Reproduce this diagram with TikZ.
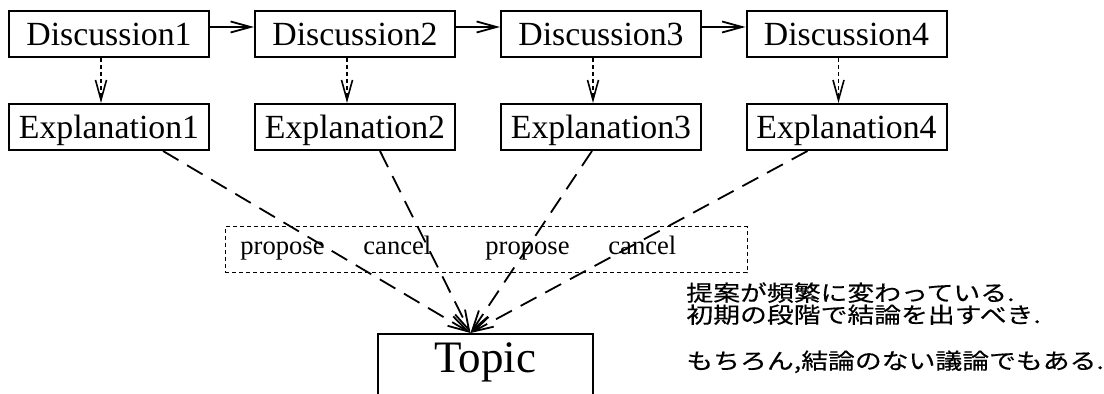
\documentclass[tikz,border=0pt]{standalone}
\usepackage{fontspec}
\setmainfont{Liberation Serif}
\newfontfamily\jpfont[FakeStretch=1.22, FakeBold=0.4]{Noto Sans CJK JP}
\usetikzlibrary{positioning, arrows.meta}

\begin{document}
\begin{tikzpicture}[x=0.5pt, y=-0.5pt]

	\tikzstyle{stage}=[rectangle, draw, line width=1pt, minimum width=100pt, minimum height=23pt, inner ysep=0pt, text height=11.5pt, text depth=0pt, font=\fontsize{16.9}{20}\selectfont]
	\tikzstyle{arc}=[-{Straight Barb[length=10pt,width=5.5pt]}, line width=0.9pt, black]
	\tikzstyle{refine}=[arc, line width=0.8pt, dash pattern=on 2pt off 1.5pt]
	\tikzstyle{feed}=[arc, line width=0.9pt, dash pattern=on 9pt off 5pt]
	\tikzstyle{act}=[inner sep=0pt, anchor=base west, font=\fontsize{13.3}{16}\selectfont]

	\useasboundingbox (0,0) rectangle (1104,394);

	% discussions
	\node[stage] (disc1) at (109,34) {Discussion1};
	\node[stage] (disc2) at (355,34) {Discussion2};
	\node[stage] (disc3) at (601,34) {Discussion3};
	\node[stage] (disc4) at (846.5,34) {Discussion4};
	\draw[arc] ([yshift=3.5pt]disc1.east) -- ([yshift=3.5pt]disc2.west);
	\draw[arc] ([yshift=3.5pt]disc2.east) -- ([yshift=3.5pt]disc3.west);
	\draw[arc] ([yshift=3.5pt]disc3.east) -- ([yshift=3.5pt]disc4.west);

	% explanations
	\node[stage] (expl1) at (109,127) {Explanation1};
	\node[stage] (expl2) at (355,127) {Explanation2};
	\node[stage] (expl3) at (601,127) {Explanation3};
	\node[stage] (expl4) at (846.5,127) {Explanation4};
	\draw[refine] ([xshift=-4pt]disc1.south) -- ([xshift=-4pt]expl1.north);
	\draw[refine] ([xshift=-4pt]disc2.south) -- ([xshift=-4pt]expl2.north);
	\draw[refine] ([xshift=-4pt]disc3.south) -- ([xshift=-4pt]expl3.north);
	\draw[refine] ([xshift=-4pt]disc4.south) -- ([xshift=-4pt]expl4.north);

	% actions
	\node[draw, dash pattern=on 2pt off 1.5pt, line width=0.5pt, minimum width=261pt, minimum height=23pt, inner sep=0pt] (acts) at (486,250) {};
	\node[act] (prop1) at (240,255) {propose};
	\node[act] (canc1) at (363,255) {cancel};
	\node[act] (prop2) at (485,255) {propose};
	\node[act] (canc2) at (608,255) {cancel};

	% topic
	\node[draw, line width=1pt, anchor=north, minimum width=107.5pt, inner ysep=4.5pt, text height=15pt, text depth=40pt, font=\fontsize{22.5}{27}\selectfont] (topic) at (485.5,333) {Topic};
	\coordinate (hit) at ([xshift=-7.5pt]topic.north);
	\draw[feed] ([xshift=27pt]expl1.south) -- (hit);
	\draw[feed] ([xshift=12.5pt]expl2.south) -- (hit);
	\draw[feed] ([xshift=-4.5pt]expl3.south) -- (hit);
	\draw[feed] ([xshift=-19.5pt]expl4.south) -- (hit);

	% comment
	\node[anchor=north west, inner sep=0pt, align=left, font=\jpfont\fontsize{11}{11}\selectfont] (note) at (686,282) {提案が頻繁に変わっている.\\初期の段階で結論を出すべき.\\[12pt]もちろん,結論のない議論でもある.};

\end{tikzpicture}
\end{document}
